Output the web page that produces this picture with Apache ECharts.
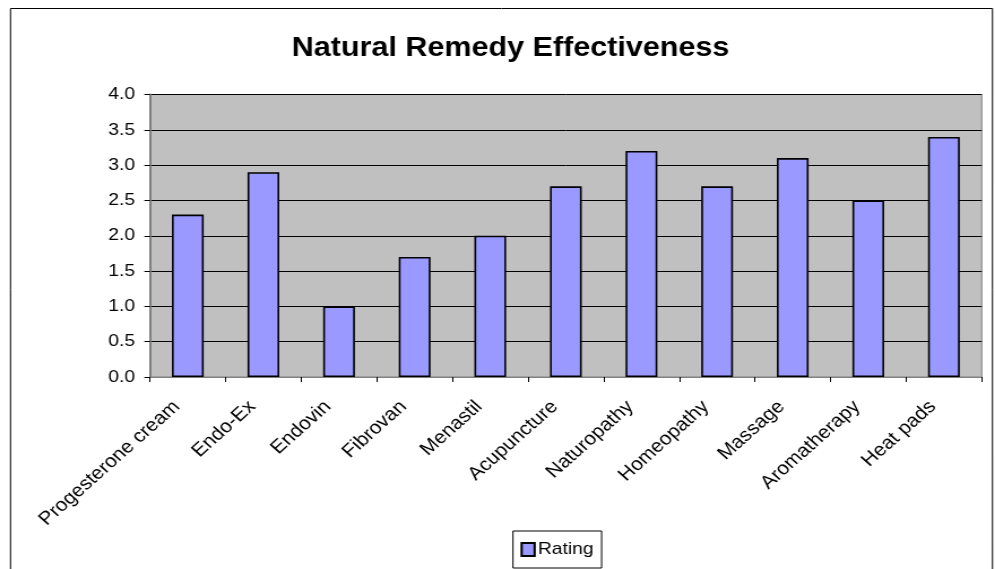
<!DOCTYPE html>
<html><head><meta charset="utf-8">
<script src="https://cdn.jsdelivr.net/npm/echarts@6/dist/echarts.min.js"></script>
<style>
html,body{margin:0;padding:0;background:#fff;overflow:hidden;width:995px;height:569px}
#c{width:880px;height:569px;transform:scaleX(1.1307);transform-origin:0 0}
</style>
</head><body><div id="c"></div>
<script>
const categories = ["Progesterone cream","Endo-Ex","Endovin","Fibrovan","Menastil","Acupuncture","Naturopathy","Homeopathy","Massage","Aromatherapy","Heat pads"];
const ratingValues = [2.3, 2.9, 1.0, 1.7, 2.0, 2.7, 3.2, 2.7, 3.1, 2.5, 3.4];
const seriesName = "Rating";
const titleText = "Natural Remedy Effectiveness";

const S = 1.1307; // horizontal stretch of the reference rendering
const X = v => v / S;
const font = 'Liberation Sans, Arial';

const chart = echarts.init(document.getElementById('c'), null, {renderer:'canvas'});
chart.setOption({
  animation:false,
  backgroundColor:'#ffffff',
  title:{text:titleText,left:X(286),top:30,
    textStyle:{fontFamily:font,fontSize:27,fontWeight:'bold',color:'#000'}},
  graphic:[{type:'rect',shape:{x:X(10.5),y:8.5,width:X(982),height:620},
    style:{fill:'none',stroke:'#000',lineWidth:1},silent:true}],
  legend:{data:[seriesName],bottom:1,left:X(513),itemWidth:X(13),itemHeight:13,itemGap:X(7),
    borderColor:'#000',borderWidth:1,padding:[10,X(8),10,X(7.5)],
    icon:'rect',
    textStyle:{fontFamily:font,fontSize:17,color:'#000',padding:[0,0,0,-2]}},
  grid:{left:X(150),right:X(13.3),top:94.5,bottom:192,show:true,backgroundColor:'#c0c0c0',borderColor:'#808080',borderWidth:1,containLabel:false},
  xAxis:{type:'category',data:categories,
    axisLine:{show:true,lineStyle:{color:'#808080',width:1}},
    axisTick:{show:true,alignWithLabel:false,length:5,lineStyle:{color:'#000'}},
    axisLabel:{rotate:45,interval:0,margin:17,padding:[0,14,0,0],fontFamily:font,fontSize:18.5,color:'#000'}},
  yAxis:{type:'value',min:0,max:4,interval:0.5,
    axisLine:{show:true,lineStyle:{color:'#808080',width:2}},
    axisTick:{show:true,length:5,lineStyle:{color:'#000'}},
    splitLine:{show:true,lineStyle:{color:'#000',width:1}},
    axisLabel:{formatter:v=>v.toFixed(1),margin:X(15),fontFamily:font,fontSize:17,color:'#000'}},
  series:[{name:seriesName,type:'bar',data:ratingValues,barCategoryGap:'58%',
    itemStyle:{color:'#9999ff',borderColor:'#000',borderWidth:1.6}}]
});
</script></body></html>
